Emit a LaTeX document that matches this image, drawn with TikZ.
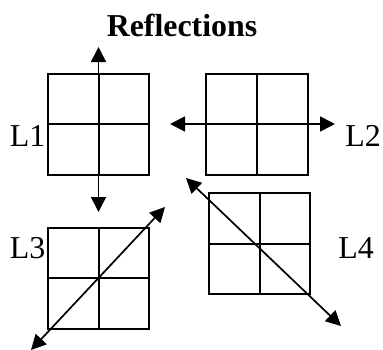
\documentclass[tikz,border=0pt]{standalone}
\usepackage{fontspec}
\setmainfont{Liberation Serif}
\usetikzlibrary{arrows.meta}
\tikzset{
  square/.style={draw, line width=2bp, minimum size=101bp, inner sep=0pt},
  refl/.style={line width=1.7bp, {Triangle[length=15bp,width=15bp]}-{Triangle[length=15bp,width=15bp]}},
  lab/.style={anchor=base, inner sep=0pt, font=\fontsize{32}{38}\selectfont}
}

\begin{document}
\begin{tikzpicture}[x=1bp, y=-1bp]
    \useasboundingbox (0,0) rectangle (383,350);

                \node[lab, font=\fontsize{32}{38}\selectfont\bfseries] (title) at (182,36) {Reflections};

                % the four grids
                \node[square] (G1) at (98.5,124) {};
                \node[square] (G2) at (257,124) {};
                \node[square] (G3) at (98.5,278) {};
                \node[square] (G4) at (259.5,243.5) {};
                \foreach \g in {G1,G2,G3,G4} {
                    \draw[line width=2bp] (\g.north) -- (\g.south);
                    \draw[line width=2bp] (\g.west) -- (\g.east);
                }

                % ends of the lines of reflection
                \coordinate (a1) at (98.5,47);
                \coordinate (b1) at (98.5,212);
                \coordinate (a2) at (170,124);
                \coordinate (b2) at (335,124);
                \coordinate (a3) at (31,350);
                \coordinate (b3) at (165,207);
                \coordinate (a4) at (186,178);
                \coordinate (b4) at (341,326);

                \draw[refl] (a1) -- (b1);
                \draw[refl] (a2) -- (b2);
                \draw[refl] (a3) -- (b3);
                \draw[refl] (a4) -- (b4);

                \node[lab] (L1) at (27.5,146) {L1};
                \node[lab] (L2) at (363,146) {L2};
                \node[lab] (L3) at (27.5,258) {L3};
                \node[lab] (L4) at (356,258) {L4};

\end{tikzpicture}
\end{document}
